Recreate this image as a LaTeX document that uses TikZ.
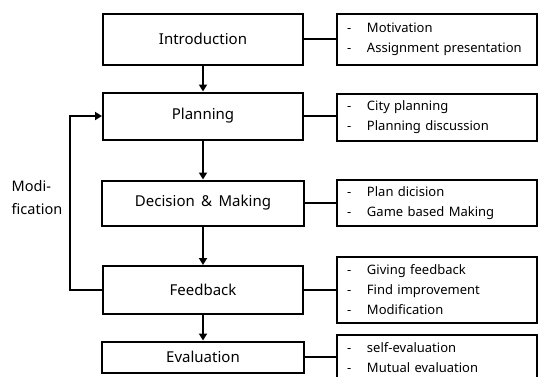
\documentclass[tikz,border=0pt]{standalone}
\usepackage{fontspec}
\setmainfont{Noto Sans}
\usetikzlibrary{arrows.meta}

\tikzset{
  stagebox/.style={draw,line width=2pt,minimum width=200pt,font=\fontsize{15}{16}\selectfont},
  notebox/.style={draw,line width=2pt,minimum width=200pt,text width=180pt,align=left,
    font=\fontsize{13}{20}\selectfont},
  flow/.style={line width=2.2pt,-{Triangle[length=7pt,width=8pt]}},
  link/.style={line width=1.8pt}
}
\newcommand{\itm}[1]{\makebox[20pt][l]{-}#1}

\begin{document}
\begin{tikzpicture}[x=1pt,y=-1pt]
     \useasboundingbox (0,0) rectangle (538,376);
     % stages
     \node[stagebox,minimum height=51pt] (intro) at (203,39) {Introduction};
     \node[stagebox,minimum height=47pt] (plan) at (203,116) {Planning};
     \node[stagebox,minimum height=45pt,minimum width=202pt] (dec) at (203,203) {Decision \,\&\, Making};
     \node[stagebox,minimum height=48pt] (feed) at (203,290) {Feedback};
     \node[stagebox,minimum height=31pt,minimum width=202pt] (eval) at (203,357) {Evaluation};
     % notes
     \node[notebox,minimum height=51pt] (introN) at (437,39) {\itm{Motivation}\\\itm{Assignment presentation}};
     \node[notebox,minimum height=47pt] (planN) at (437,117) {\itm{City planning}\\\itm{Planning discussion}};
     \node[notebox,minimum height=46pt] (decN) at (437,203) {\itm{Plan dicision}\\\itm{Game based Making}};
     \node[notebox,minimum height=66pt] (feedN) at (437,290) {\itm{Giving feedback}\\\itm{Find improvement}\\\itm{Modification}};
     \node[notebox,minimum height=46pt,anchor=north] (evalN) at (437,334) {\itm{self-evaluation}\\\itm{Mutual evaluation}};
     % flow
     \draw[flow] (intro) -- (plan);
     \draw[flow] (plan) -- (dec);
     \draw[flow] (dec) -- (feed);
     \draw[flow] (feed) -- (eval);
     \foreach \s in {intro,plan,dec,feed} {
      \draw[link] (\s.east) -- (\s N.west |- \s.east);
     }
     \draw[link] (eval.east) -- (evalN.west |- eval.east);
     % loop back
     \coordinate (loop) at (70,0);
     \draw[flow] (feed.west) -- (loop |- feed.west) -- (loop |- plan.west) -- (plan.west);
     \node[align=left,font=\fontsize{14.5}{23}\selectfont,inner sep=0pt] (mod) at (37,198) {Modi-\\fication};
\end{tikzpicture}
\end{document}
